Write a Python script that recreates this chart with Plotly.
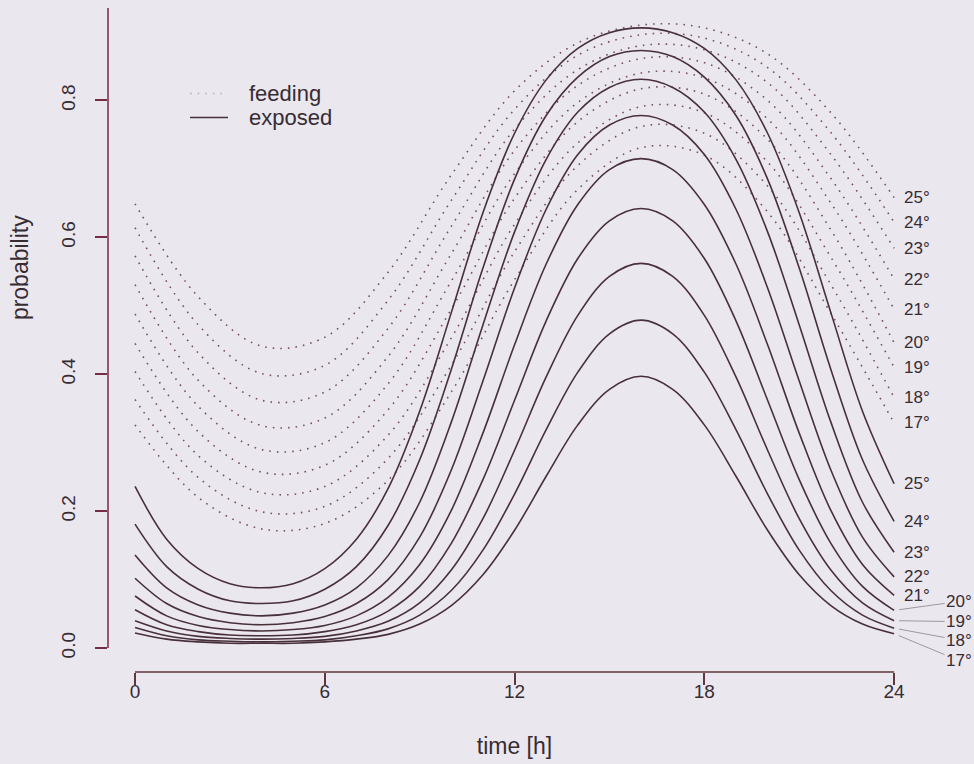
import plotly.graph_objects as go

# ---------------- data ----------------
feeding_hours = [0, 2, 4, 6, 8, 10, 12, 14, 16, 18, 20, 22, 24]
exposed_hours = list(range(0, 25))
temps = [25, 24, 23, 22, 21, 20, 19, 18, 17]
temp_labels = ["25°", "24°", "23°", "22°", "21°", "20°", "19°", "18°", "17°"]
x_ticks = [0, 6, 12, 18, 24]
y_ticks = [0.0, 0.2, 0.4, 0.6, 0.8]
y_tick_text = ["0.0", "0.2", "0.4", "0.6", "0.8"]

# probability of feeding (dotted curves), every 2 h
feeding_25 = [0.649, 0.513, 0.441, 0.454, 0.549, 0.691, 0.814, 0.884, 0.910, 0.906, 0.868, 0.782, 0.658]
feeding_24 = [0.614, 0.472, 0.401, 0.413, 0.508, 0.654, 0.787, 0.866, 0.896, 0.891, 0.848, 0.753, 0.622]
feeding_23 = [0.573, 0.431, 0.362, 0.374, 0.467, 0.616, 0.758, 0.845, 0.880, 0.874, 0.826, 0.721, 0.584]
feeding_22 = [0.531, 0.391, 0.325, 0.336, 0.426, 0.576, 0.727, 0.822, 0.861, 0.855, 0.800, 0.686, 0.539]
feeding_21 = [0.488, 0.353, 0.290, 0.300, 0.386, 0.536, 0.693, 0.797, 0.840, 0.833, 0.773, 0.650, 0.495]
feeding_20 = [0.445, 0.316, 0.257, 0.267, 0.348, 0.495, 0.657, 0.769, 0.817, 0.809, 0.743, 0.611, 0.446]
feeding_19 = [0.404, 0.281, 0.227, 0.236, 0.311, 0.453, 0.619, 0.738, 0.791, 0.782, 0.710, 0.571, 0.410]
feeding_18 = [0.363, 0.249, 0.199, 0.207, 0.277, 0.413, 0.579, 0.705, 0.762, 0.752, 0.675, 0.531, 0.366]
feeding_17 = [0.326, 0.220, 0.174, 0.182, 0.245, 0.374, 0.538, 0.670, 0.731, 0.720, 0.637, 0.489, 0.329]

# probability of being exposed (solid curves), every hour
exposed_25 = [0.236, 0.159, 0.116, 0.094, 0.088, 0.094, 0.116, 0.159, 0.233, 0.346, 0.490, 0.636, 0.752,
              0.830, 0.876, 0.899, 0.906, 0.899, 0.876, 0.830, 0.752, 0.636, 0.490, 0.346, 0.240]
exposed_24 = [0.181, 0.119, 0.086, 0.069, 0.065, 0.069, 0.086, 0.119, 0.179, 0.275, 0.407, 0.555, 0.685,
              0.778, 0.834, 0.864, 0.873, 0.864, 0.834, 0.778, 0.685, 0.555, 0.407, 0.275, 0.185]
exposed_23 = [0.136, 0.088, 0.063, 0.051, 0.047, 0.051, 0.063, 0.088, 0.135, 0.213, 0.330, 0.472, 0.608,
              0.714, 0.783, 0.819, 0.831, 0.819, 0.783, 0.714, 0.608, 0.472, 0.330, 0.213, 0.140]
exposed_22 = [0.102, 0.065, 0.046, 0.037, 0.034, 0.037, 0.046, 0.065, 0.100, 0.162, 0.260, 0.390, 0.526,
              0.641, 0.721, 0.764, 0.778, 0.764, 0.721, 0.641, 0.526, 0.390, 0.260, 0.162, 0.104]
exposed_21 = [0.076, 0.047, 0.033, 0.027, 0.025, 0.027, 0.033, 0.047, 0.074, 0.122, 0.201, 0.314, 0.443,
              0.561, 0.648, 0.699, 0.715, 0.699, 0.648, 0.561, 0.443, 0.314, 0.201, 0.122, 0.077]
exposed_20 = [0.056, 0.034, 0.024, 0.019, 0.018, 0.019, 0.024, 0.034, 0.054, 0.090, 0.153, 0.246, 0.362,
              0.478, 0.569, 0.624, 0.642, 0.624, 0.569, 0.478, 0.362, 0.246, 0.153, 0.090, 0.055]
exposed_19 = [0.040, 0.025, 0.017, 0.014, 0.013, 0.014, 0.017, 0.025, 0.039, 0.066, 0.114, 0.189, 0.289,
              0.396, 0.486, 0.543, 0.562, 0.543, 0.486, 0.396, 0.289, 0.189, 0.114, 0.066, 0.040]
exposed_18 = [0.030, 0.018, 0.012, 0.010, 0.009, 0.010, 0.012, 0.018, 0.028, 0.048, 0.084, 0.143, 0.225,
              0.319, 0.403, 0.459, 0.479, 0.459, 0.403, 0.319, 0.225, 0.143, 0.084, 0.048, 0.029]
exposed_17 = [0.022, 0.013, 0.009, 0.007, 0.007, 0.007, 0.009, 0.013, 0.020, 0.035, 0.062, 0.107, 0.172,
              0.251, 0.326, 0.378, 0.397, 0.378, 0.326, 0.251, 0.172, 0.107, 0.062, 0.035, 0.021]

feeding = [feeding_25, feeding_24, feeding_23, feeding_22, feeding_21,
           feeding_20, feeding_19, feeding_18, feeding_17]
exposed = [exposed_25, exposed_24, exposed_23, exposed_22, exposed_21,
           exposed_20, exposed_19, exposed_18, exposed_17]

# ---------------- styling ----------------
BG = "rgb(234,231,239)"
SOLID = "rgb(72,48,58)"
DOTC = "rgb(120,82,98)"
TXT = "rgb(55,44,50)"
AXC = "rgb(95,55,62)"
YAXC = "rgb(115,45,68)"
FONT = "Liberation Sans"

fig = go.Figure()

for t, vals in zip(temps, feeding):
    fig.add_trace(go.Scatter(
        x=feeding_hours, y=vals, mode="lines", name=f"feeding {t}°",
        line=dict(color=DOTC, width=1.6, dash="1.6px,6px", shape="spline", smoothing=1.0),
        showlegend=False, hoverinfo="skip"))

for t, vals in zip(temps, exposed):
    fig.add_trace(go.Scatter(
        x=exposed_hours, y=vals, mode="lines", name=f"exposed {t}°",
        line=dict(color=SOLID, width=1.6, shape="spline", smoothing=1.0),
        showlegend=False, hoverinfo="skip"))

annotations = []
for lab, vals in zip(temp_labels, feeding):
    annotations.append(dict(x=24, y=vals[-1], xref="x", yref="y", text=lab,
                            showarrow=False, xanchor="left", yanchor="middle", xshift=8,
                            font=dict(family=FONT, size=17, color=TXT)))
for i, (lab, vals) in enumerate(zip(temp_labels, exposed)):
    if i < 5:
        annotations.append(dict(x=24, y=vals[-1], xref="x", yref="y", text=lab,
                                showarrow=False, xanchor="left", yanchor="middle", xshift=8,
                                font=dict(family=FONT, size=17, color=TXT)))
    else:
        k = i - 5
        annotations.append(dict(x=24, y=vals[-1], xref="x", yref="y", text=lab,
                                showarrow=True, arrowhead=0, arrowwidth=1,
                                arrowcolor="rgb(160,150,160)", ax=65, ay=[-9, 1, 12, 27][k],
                                standoff=5,
                                font=dict(family=FONT, size=17, color=TXT)))

# legend drawn by hand (R style)
annotations.append(dict(x=3.53, y=0.81, xref="x", yref="y", text="feeding", showarrow=False,
                        xanchor="left", yanchor="middle", font=dict(family=FONT, size=22, color=TXT)))
annotations.append(dict(x=3.53, y=0.775, xref="x", yref="y", text="exposed", showarrow=False,
                        xanchor="left", yanchor="middle", font=dict(family=FONT, size=22, color=TXT)))

# y axis title (sits above the middle of the axis, as in the reference)
annotations.append(dict(x=0, y=0.555, xref="paper", yref="y", text="probability", showarrow=False,
                        textangle=-90, xanchor="center", yanchor="middle", xshift=-88,
                        font=dict(family=FONT, size=23, color=TXT)))

shapes = [
    dict(type="line", xref="x", yref="paper", x0=0, x1=24, y0=0, y1=0,
         line=dict(color=AXC, width=1.5)),
    dict(type="line", xref="paper", yref="y", x0=0, x1=0, y0=0, y1=0.935,
         line=dict(color=YAXC, width=1.5)),
    dict(type="line", xref="x", yref="y", x0=1.74, x1=2.94, y0=0.775, y1=0.775,
         line=dict(color=SOLID, width=1.6)),
    dict(type="line", xref="x", yref="y", x0=1.74, x1=2.94, y0=0.81, y1=0.81,
         line=dict(color="rgb(185,175,185)", width=1.4, dash="1.6px,6px")),
]

fig.update_layout(
    width=974, height=764,
    margin=dict(l=108, r=53, t=8, b=92),
    paper_bgcolor=BG, plot_bgcolor=BG,
    font=dict(family=FONT, size=19, color=TXT),
    showlegend=False,
    annotations=annotations, shapes=shapes,
    xaxis=dict(range=[-0.854, 24.85], tickvals=x_ticks, ticks="outside", ticklen=12,
               tickcolor=AXC, tickwidth=1.5, showline=False, showgrid=False, zeroline=False,
               ticklabelstandoff=-10,
               tickfont=dict(family=FONT, size=19, color=TXT),
               title=dict(text="time [h]", font=dict(family=FONT, size=23, color=TXT), standoff=37)),
    yaxis=dict(range=[-0.035, 0.935], tickvals=y_ticks, ticktext=y_tick_text, ticks="outside",
               ticklen=12, tickcolor=YAXC, tickwidth=1.5, tickangle=-90,
               ticklabelstandoff=12,
               showline=False, showgrid=False, zeroline=False,
               tickfont=dict(family=FONT, size=19, color=TXT)),
)

fig.write_html("out.html")
